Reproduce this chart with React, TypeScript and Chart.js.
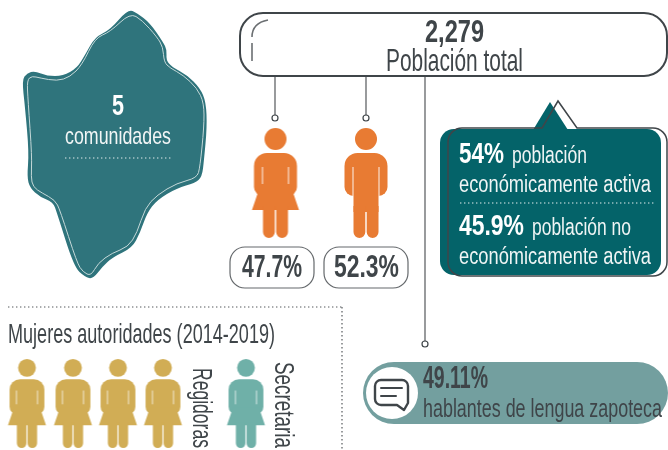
import React, { useEffect, useRef } from "react";
import { Chart, registerables } from "chart.js";

Chart.register(...registerables);

// ---- values ----
const communities = 5;
const communitiesLabel = "comunidades";
const totalPopulation = 2279;
const totalLabel = "Población total";
const genderShares = [47.7, 52.3];
const activityShares = [54, 45.9];
const activityWords = ["población", "económicamente activa", "población no", "económicamente activa"];
const zapotecShare = 49.11;
const zapotecLabel = "hablantes de lengua zapoteca";
const authoritiesTitle = "Mujeres autoridades (2014-2019)";
const authorityCategories = ["Regidoras", "Secretaria"];
const authorityCounts = [4, 1];

// ---- layout (drawn through hidden pixel-like scales) ----
const WIDTH = 668;
const HEIGHT = 450;
const FONT = '"Liberation Sans Narrow", "Liberation Sans", sans-serif';
const INK = "#3f4549";
const ORANGE = "#e87b33";
const GOLD = "#d1ad55";
const SEA = "#6fb0a8";
const BLOB = "#2f747c";
const CALLOUT = "#046369";
const PILL = "#739f9f";

const blobOuter = [[128,9],[137,13],[150,23],[163,42],[167,50],[166,60],[172,67],[187,75],[200,88],[206,102],[207,127],[204,160],[202,177],[195,183],[177,188],[157,200],[147,213],[140,233],[132,248],[113,257],[102,267],[93,279],[85,277],[74,267],[57,213],[53,202],[40,197],[30,188],[27,177],[29,153],[25,107],[22,80],[27,73],[35,71],[47,76],[63,76],[77,68],[85,55],[95,37],[110,30]];
const blobInner = [[130,13],[142,20],[157,37],[163,47],[164,62],[170,68],[183,75],[197,88],[204,103],[204,127],[200,167],[197,178],[177,183],[157,195],[145,208],[137,233],[128,247],[112,253],[98,263],[91,276],[83,272],[77,263],[60,210],[55,200],[42,193],[33,187],[31,177],[32,157],[28,100],[27,80],[32,76],[40,78],[57,81],[70,77],[82,65],[95,38],[110,32]];

function personIcon(kind: "woman" | "man", color: string, s: number) {
  const c = document.createElement("canvas");
  c.width = Math.ceil(50 * s);
  c.height = Math.ceil(112 * s);
  const g = c.getContext("2d")!;
  g.translate(c.width / 2, c.height / 2);
  g.scale(s, s);
  g.translate(0, -55);
  g.fillStyle = color;
  g.beginPath();
  g.arc(0, 11, 11, 0, Math.PI * 2);
  g.fill();
  g.beginPath();
  g.roundRect(-21.5, 25, 43, 43, [13, 13, 9, 9]);
  g.fill();
  if (kind === "woman") {
    g.beginPath();
    g.moveTo(-16, 60); g.lineTo(-23.5, 82); g.lineTo(23.5, 82); g.lineTo(16, 60);
    g.closePath();
    g.fill();
  } else {
    g.fillRect(-12.5, 60, 25, 24);
  }
  g.beginPath();
  g.roundRect(-12.5, 78, 11.8, 32, [0, 0, 6, 6]);
  g.roundRect(0.7, 78, 11.8, 32, [0, 0, 6, 6]);
  g.fill();
  g.strokeStyle = "rgba(255,255,255,0.9)";
  g.lineWidth = 1;
  const armEnd = kind === "woman" ? 56 : 68;
  g.beginPath();
  g.moveTo(-13, 39); g.lineTo(-13, armEnd);
  g.moveTo(13, 39); g.lineTo(13, armEnd);
  g.stroke();
  return c;
}

function smoothClosed(ctx: CanvasRenderingContext2D, pts: { x: number; y: number }[]) {
  const n = pts.length;
  ctx.beginPath();
  ctx.moveTo((pts[n - 1].x + pts[0].x) / 2, (pts[n - 1].y + pts[0].y) / 2);
  for (let i = 0; i < n; i++) {
    const p = pts[i];
    const q = pts[(i + 1) % n];
    ctx.quadraticCurveTo(p.x, p.y, (p.x + q.x) / 2, (p.y + q.y) / 2);
  }
  ctx.closePath();
}

const decorations = {
  id: "decorations",
  beforeDatasetsDraw(chart: any) {
    const { ctx, scales } = chart;
    const X = (v: number) => scales.x.getPixelForValue(v);
    const Y = (v: number) => scales.y.getPixelForValue(v);
    const rr = (x0: number, y0: number, x1: number, y1: number, r: number | number[]) => {
      ctx.beginPath();
      ctx.roundRect(X(x0), Y(y0), X(x1) - X(x0), Y(y1) - Y(y0), r);
    };
    const dotted = (x0: number, y0: number, x1: number, y1: number, color: string, w = 1.2) => {
      ctx.save();
      ctx.setLineDash([1.4, 2.6]);
      ctx.strokeStyle = color;
      ctx.lineWidth = w;
      ctx.beginPath();
      ctx.moveTo(X(x0), Y(y0));
      ctx.lineTo(X(x1), Y(y1));
      ctx.stroke();
      ctx.restore();
    };
    ctx.save();

    // territory
    smoothClosed(ctx, blobOuter.map(([x, y]) => ({ x: X(x), y: Y(y) })));
    ctx.fillStyle = BLOB;
    ctx.fill();
    smoothClosed(ctx, blobInner.map(([x, y]) => ({ x: X(x), y: Y(y) })));
    ctx.strokeStyle = "#c4d8d8";
    ctx.lineWidth = 1;
    ctx.stroke();
    dotted(65, 158, 172, 158, "#dfe9e9");

    // population box
    rr(240, 13, 667, 76, 23);
    ctx.strokeStyle = INK;
    ctx.lineWidth = 2;
    ctx.stroke();
    ctx.strokeStyle = "#6b6f72";
    ctx.lineWidth = 1.6;
    ctx.beginPath();
    ctx.moveTo(X(252), Y(43)); ctx.lineTo(X(252), Y(61));
    ctx.moveTo(X(252), Y(37));
    ctx.quadraticCurveTo(X(252), Y(23), X(268), Y(20));
    ctx.stroke();

    // share boxes
    ctx.strokeStyle = "#65696c";
    ctx.lineWidth = 1.2;
    rr(230, 247, 314, 288, 15); ctx.stroke();
    rr(324, 247, 408, 288, 15); ctx.stroke();

    // callout
    ctx.fillStyle = CALLOUT;
    rr(440, 129, 661, 275, 14); ctx.fill();
    ctx.beginPath();
    ctx.moveTo(X(533), Y(130)); ctx.lineTo(X(550), Y(102)); ctx.lineTo(X(568), Y(130));
    ctx.closePath();
    ctx.fill();
    ctx.strokeStyle = INK;
    ctx.lineWidth = 1.5;
    ctx.beginPath();
    ctx.moveTo(X(542), Y(128));
    ctx.lineTo(X(558), Y(101));
    ctx.lineTo(X(577), Y(128));
    ctx.lineTo(X(653), Y(128));
    ctx.arcTo(X(667), Y(128), X(667), Y(142), 14);
    ctx.lineTo(X(667), Y(262));
    ctx.arcTo(X(667), Y(276), X(653), Y(276), 14);
    ctx.lineTo(X(462), Y(276));
    ctx.arcTo(X(448), Y(276), X(448), Y(262), 14);
    ctx.lineTo(X(448), Y(142));
    ctx.arcTo(X(448), Y(128), X(462), Y(128), 14);
    ctx.closePath();
    ctx.stroke();
    dotted(460, 203, 654, 203, "#e6efef");

    // authorities frame
    dotted(8, 307, 342, 307, "#55595c");
    dotted(342, 307, 342, 450, "#55595c");

    // language pill
    ctx.fillStyle = PILL;
    rr(363, 362, 668, 424, [31, 31, 31, 31]); ctx.fill();
    ctx.fillStyle = "#fff";
    ctx.beginPath();
    ctx.arc(X(392), Y(393), 26, 0, Math.PI * 2);
    ctx.fill();
    ctx.strokeStyle = INK;
    ctx.lineWidth = 2.4;
    ctx.lineJoin = "round";
    ctx.lineCap = "round";
    ctx.beginPath();
    ctx.moveTo(X(381), Y(380));
    ctx.lineTo(X(402), Y(380));
    ctx.arcTo(X(408), Y(380), X(408), Y(386), 6);
    ctx.lineTo(X(408), Y(403));
    ctx.lineTo(X(404), Y(410));
    ctx.lineTo(X(397), Y(405));
    ctx.lineTo(X(381), Y(405));
    ctx.arcTo(X(375), Y(405), X(375), Y(399), 6);
    ctx.lineTo(X(375), Y(386));
    ctx.arcTo(X(375), Y(380), X(381), Y(380), 6);
    ctx.closePath();
    ctx.stroke();
    ctx.lineWidth = 2;
    ctx.beginPath();
    ctx.moveTo(X(381), Y(388)); ctx.lineTo(X(402), Y(388));
    ctx.moveTo(X(381), Y(396)); ctx.lineTo(X(396), Y(396));
    ctx.stroke();
    ctx.restore();
  },
  afterDatasetsDraw(chart: any) {
    const { ctx, scales } = chart;
    const X = (v: number) => scales.x.getPixelForValue(v);
    const Y = (v: number) => scales.y.getPixelForValue(v);
    const text = (t: string, x0: number, x1: number, base: number, size: number, color: string, bold = false, rot = 0) => {
      ctx.save();
      ctx.font = `${bold ? "bold " : ""}${size}px ${FONT}`;
      ctx.fillStyle = color;
      ctx.textAlign = "left";
      ctx.textBaseline = "alphabetic";
      const w = ctx.measureText(t).width;
      if (rot) {
        ctx.translate(X(base), Y(x0));
        ctx.rotate(rot);
      } else {
        ctx.translate(X(x0), Y(base));
      }
      ctx.scale((x1 - x0) / w, 1);
      ctx.fillText(t, 0, 0);
      ctx.restore();
    };
    const pct = (v: number) => `${v}%`;
    text(String(communities), 112, 124, 115, 30, "#fff", true);
    text(communitiesLabel, 65, 171, 144, 24, "#f2f6f6");
    text(totalPopulation.toLocaleString("en-US"), 425, 484, 42, 31, INK, true);
    text(totalLabel, 386, 523, 71, 32, INK);
    text(pct(genderShares[0]), 242, 302, 277, 31, INK, true);
    text(pct(genderShares[1]), 334, 399, 277, 31, INK, true);
    text(pct(activityShares[0]), 459, 504, 163, 30, "#fff", true);
    text(activityWords[0], 512, 587, 163, 23, "#f0f5f5");
    text(activityWords[1], 459, 651, 192, 23, "#f0f5f5");
    text(pct(activityShares[1]), 459, 524, 235, 30, "#fff", true);
    text(activityWords[2], 532, 631, 235, 23, "#f0f5f5");
    text(activityWords[3], 459, 651, 264, 23, "#f0f5f5");
    text(pct(zapotecShare), 423, 488, 388, 31, INK, true);
    text(zapotecLabel, 423, 662, 417, 26, INK);
    text(authoritiesTitle, 8, 275, 343, 28, INK);
    text(authorityCategories[0], 368, 448, 193, 28, INK, false, Math.PI / 2);
    text(authorityCategories[1], 362, 448, 275, 28, INK, false, Math.PI / 2);
  },
};

const regidoraX = [27, 73, 118, 163];
const secretariaX = [246];

export default function App() {
  const ref = useRef<HTMLCanvasElement | null>(null);
  useEffect(() => {
    document.body.style.margin = "0";
    const small = 0.81;
    const connector = (x: number, y1: number) => ({
      type: "scatter" as const,
      data: [{ x, y: 77 }, { x, y: y1 }],
      showLine: true,
      borderColor: "#55595c",
      borderWidth: 1.2,
      pointRadius: [0, 3],
      pointBackgroundColor: "#fff",
      pointBorderColor: INK,
      pointBorderWidth: 1.2,
      clip: false,
    });
    const chart = new Chart(ref.current!, {
      type: "scatter",
      data: {
        datasets: [
          connector(275, 118),
          connector(366, 118),
          connector(425, 344),
          {
            label: "Mujeres",
            data: [{ x: 275.5, y: 183 }],
            pointStyle: personIcon("woman", ORANGE, 1),
            clip: false,
          },
          {
            label: "Hombres",
            data: [{ x: 366, y: 183 }],
            pointStyle: personIcon("man", ORANGE, 1),
            clip: false,
          },
          {
            label: authorityCategories[0],
            data: regidoraX.slice(0, authorityCounts[0]).map((x) => ({ x, y: 403.5 })),
            pointStyle: personIcon("woman", GOLD, small),
            clip: false,
          },
          {
            label: authorityCategories[1],
            data: secretariaX.slice(0, authorityCounts[1]).map((x) => ({ x, y: 403.5 })),
            pointStyle: personIcon("woman", SEA, small),
            clip: false,
          },
        ] as any,
      },
      options: {
        animation: false,
        responsive: false,
        layout: { padding: 0, autoPadding: false },
        events: [],
        plugins: { legend: { display: false }, tooltip: { enabled: false } },
        scales: {
          x: { type: "linear", min: 0, max: WIDTH, display: false },
          y: { type: "linear", min: 0, max: HEIGHT, reverse: true, display: false },
        },
      },
      plugins: [decorations],
    } as any);
    return () => chart.destroy();
  }, []);
  return (
    <div style={{ width: WIDTH, height: HEIGHT, background: "#fff" }}>
      <canvas ref={ref} width={WIDTH} height={HEIGHT} style={{ display: "block" }} />
    </div>
  );
}
